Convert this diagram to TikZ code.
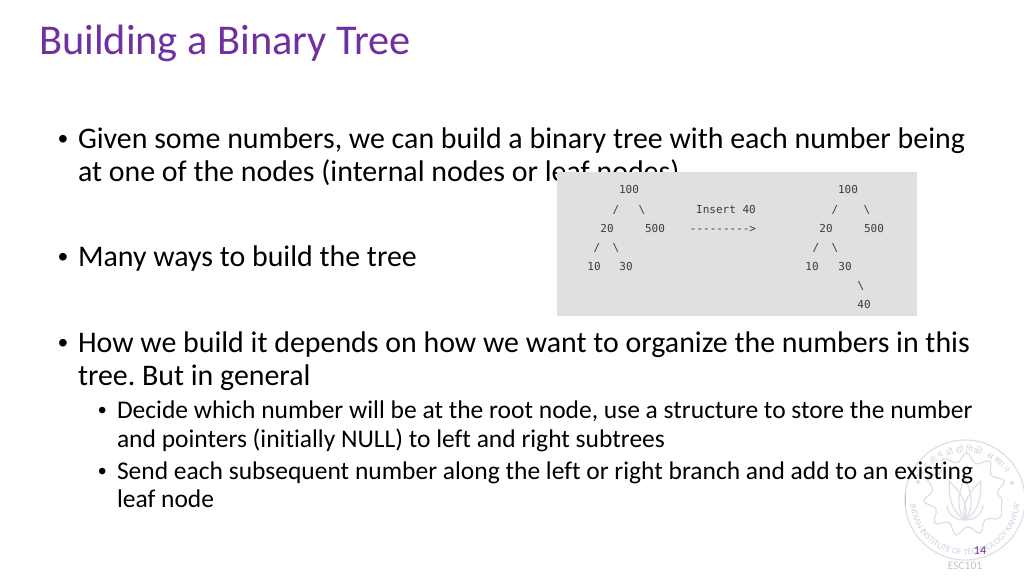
\documentclass[tikz,border=0pt]{standalone}
\usepackage{fontspec}
\setmainfont[Ligatures=NoCommon]{Carlito}
\newfontfamily\devfont[Script=Devanagari]{Noto Sans}
\newfontfamily\codefont{DejaVu Sans Mono}
\newfontfamily\bulletfont{Liberation Sans}
\usetikzlibrary{calc,decorations.text,decorations.pathmorphing}
\definecolor{titlepurple}{RGB}{112,48,160}
\definecolor{logoline}{RGB}{226,220,232}
\definecolor{logotext}{RGB}{216,208,224}
\definecolor{panelgray}{RGB}{224,224,224}
\definecolor{codegray}{RGB}{60,60,60}
\tikzset{
  every node/.style={inner sep=0pt,outer sep=0pt},
  titletext/.style={anchor=base west,text=titlepurple,font=\fontsize{42.4}{42.4}\selectfont},
  bodytext/.style={anchor=base west,text=black,font=\fontsize{29.9}{29.9}\selectfont},
  subtext/.style={anchor=base west,text=black,font=\fontsize{25.5}{25.5}\selectfont},
  bodybullet/.style={anchor=base west,text=black,font=\bulletfont\fontsize{28}{28}\selectfont},
  subbullet/.style={anchor=base west,text=black,font=\bulletfont\fontsize{24}{24}\selectfont},
  code/.style={anchor=base,text=codegray,font=\codefont\fontsize{11}{11}\selectfont},
  logoring/.style={draw=logoline,line width=1.2pt},
}
\begin{document}
\frenchspacing
\begin{tikzpicture}[x=1pt,y=-1pt]
\useasboundingbox (0,0) rectangle (1024,576);
% logo
\begin{scope}
\clip (0,0) rectangle (1024,576);
\coordinate (lc) at (965,500);
\draw[logoring] (lc) circle (60pt);
\draw[logoring,decorate,decoration={snake,segment length=22pt,amplitude=4.5pt}] (lc) circle (37pt);
\foreach \r in {-22,0,22}{
  \draw[logoring,rotate around={\r:(965,520)}] (965,520) .. controls (954,505) and (960,490) .. (965,478) .. controls (970,490) and (976,505) .. (965,520);
}
\draw[logoring] (947,505) .. controls (948,525) and (982,525) .. (983,505);
\fill[logoline] (918,482) circle (2pt) (1012,483) circle (2pt);
\draw[draw=titlepurple!35,line width=0.8pt] (905,493) -- (905,506);
\path[decorate,decoration={text along path,text align=center,
  text={|\fontsize{9}{9}\selectfont\color{logotext}|INDIAN INSTITUTE OF TECHNOLOGY KANPUR}}]
  ($(lc)+(172:55pt)$) arc[start angle=172,end angle=368,radius=55pt];
\foreach \a/\s in {150/भा,139/र,129/ती,119/य,108/प्रौ,96/द्यो,85/गि,75/की,60/सं,48/स्था,36/न}{
  \node[text=logotext,font=\devfont\fontsize{8.5}{8.5}\selectfont,rotate=\a-90] at ($(lc)+(\a:51pt)$) {\s};
}
\end{scope}
% title and body
\node[titletext] (title) at (39,54) {Building a Binary Tree};
\node[bodybullet] (b1) at (58,148) {•};
\node[bodytext] (l1) at (78,148) {Given some numbers, we can build a binary tree with each number being};
\node[bodytext] (l2) at (78,181) {at one of the nodes (internal nodes or leaf nodes)};
\node[bodybullet] (b2) at (58,266) {•};
\node[bodytext] (l3) at (78,266) {Many ways to build the tree};
\node[bodybullet] (b3) at (58,352) {•};
\node[bodytext] (l4) at (78,352) {How we build it depends on how we want to organize the numbers in this};
\node[bodytext] (l5) at (78,385) {tree. But in general};
\node[subbullet] (b4) at (98,418) {•};
\node[subtext] (l6) at (117,418) {Decide which number will be at the root node, use a structure to store the number};
\node[subtext] (l7) at (117,447) {and pointers (initially NULL) to left and right subtrees};
\node[subbullet] (b5) at (98,479) {•};
\node[subtext] (l8) at (117,479) {Send each subsequent number along the left or right branch and add to an existing};
\node[subtext] (l9) at (117,507) {leaf node};
% panel
\fill[panelgray] (557,172) rectangle (917,316);
\node[code] (a1) at (629,193) {100};
\node[code] (a2) at (616,213) {/};
\node[code] (a3) at (642,213) {\textbackslash};
\node[code] (a4) at (607,232) {20};
\node[code] (a5) at (655,232) {500};
\node[code] (a6) at (597,251) {/};
\node[code] (a7) at (616,251) {\textbackslash};
\node[code] (a8) at (594,270) {10};
\node[code] (a9) at (626,270) {30};
\node[code] (i1) at (726,213) {Insert 40};
\node[code] (i2) at (723,232) {-{}-{}-{}-{}-{}-{}-{}-{}-{}>};
\node[code] (c1) at (848,193) {100};
\node[code] (c2) at (835,213) {/};
\node[code] (c3) at (867,213) {\textbackslash};
\node[code] (c4) at (826,232) {20};
\node[code] (c5) at (874,232) {500};
\node[code] (c6) at (816,251) {/};
\node[code] (c7) at (835,251) {\textbackslash};
\node[code] (c8) at (812,270) {10};
\node[code] (c9) at (845,270) {30};
\node[code] (c10) at (861,289) {\textbackslash};
\node[code] (c11) at (864,308) {40};
% footer
\node[anchor=base,text=titlepurple,font=\fontsize{12}{12}\selectfont] (pg) at (980,554) {14};
\node[anchor=base,text=logotext!80!gray,font=\fontsize{11.5}{11.5}\selectfont] (fn) at (965,569) {ESC101};
\end{tikzpicture}
\end{document}
